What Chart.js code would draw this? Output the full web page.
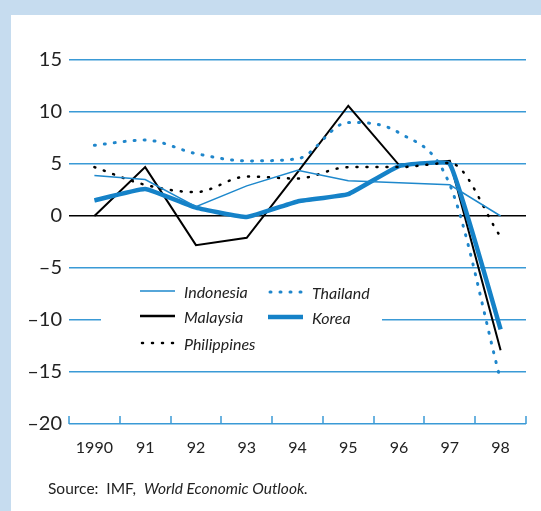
<!DOCTYPE html>
<html>
<head>
<meta charset="utf-8">
<script src="https://cdn.jsdelivr.net/npm/chart.js@4.4.1/dist/chart.umd.min.js"></script>
<style>
  html, body { margin: 0; padding: 0; background: #c6dcef; }
  #myChart { position: absolute; left: 0; top: 0; }
  #source { position: absolute; left: 48px; top: 479px; font: 15.5px Lato, sans-serif; color: #222; }
</style>
</head>
<body>
<canvas id="myChart" width="541" height="511"></canvas>
<div id="source">Source:&nbsp; IMF,&nbsp; <i>World Economic Outlook.</i></div>
<script>
// data
const years = ['1990', '91', '92', '93', '94', '95', '96', '97', '98']
const indonesia = [3.9, 3.5, 0.9, 2.9, 4.4, 3.4, 3.2, 3.0, 0.0]
const malaysia = [0.0, 4.7, -2.8, -2.1, 4.2, 10.6, 4.9, 5.3, -12.9]
const philippines = [4.7, 3.0, 2.3, 3.8, 3.6, 4.7, 4.7, 5.1, -2.0]
const thailand = [6.8, 7.3, 6.0, 5.3, 5.5, 9.0, 8.0, 3.0, -15.8]
const korea = [1.5, 2.6, 0.8, -0.1, 1.4, 2.1, 4.8, 5.0, -10.9]
const yTicks = [-20, -15, -10, -5, 0, 5, 10, 15]

const BLUE = '#3a9ad6'
const FONT = 'Lato, sans-serif'

// background panel
const panel = {
  id: 'panel',
  beforeDraw(chart) {
    const c = chart.ctx
    c.save()
    c.fillStyle = '#c6dcef'
    c.fillRect(0, 0, chart.width, chart.height)
    c.fillStyle = '#fff'
    c.fillRect(11, 15, chart.width - 11, chart.height - 15)
    c.restore()
  }
}

// legend box inside the plot
const legendBox = {
  id: 'legendBox',
  beforeDatasetsDraw(chart) {
    const c = chart.ctx
    c.save()
    c.fillStyle = '#fff'
    c.fillRect(101, 280, 281, 80)
    c.font = 'italic 16px ' + FONT
    c.fillStyle = '#222'
    c.textBaseline = 'middle'
    const items = [
      {x: 140, y: 291, label: 'Indonesia', color: '#1e88cc', w: 1.5, dash: []},
      {x: 140, y: 316, label: 'Malaysia', color: '#000', w: 2.5, dash: []},
      {x: 140, y: 343, label: 'Philippines', color: '#000', w: 2.5, dash: [1, 9]},
      {x: 268, y: 292, label: 'Thailand', color: '#1f86cb', w: 3, dash: [1, 9]},
      {x: 268, y: 317, label: 'Korea', color: '#1582c8', w: 4.5, dash: []}
    ]
    items.forEach(it => {
      c.beginPath()
      c.strokeStyle = it.color
      c.lineWidth = it.w
      c.setLineDash(it.dash)
      c.lineCap = it.dash.length ? 'round' : 'butt'
      c.moveTo(it.x + (it.dash.length ? 2 : 0), it.y)
      c.lineTo(it.x + 35, it.y)
      c.stroke()
      c.setLineDash([])
      c.fillText(it.label, it.x + 44, it.y + 2)
    })
    c.restore()
  }
}

// small upward ticks on the bottom axis
const xTicks = {
  id: 'xTicks',
  afterDraw(chart) {
    const c = chart.ctx
    const xs = chart.scales.x
    const bottom = chart.chartArea.bottom
    c.save()
    c.strokeStyle = BLUE
    c.lineWidth = 1.5
    for (let i = 0; i <= years.length; i++) {
      const x = Math.round(xs.getPixelForValue(i - 0.5))
      c.beginPath()
      c.moveTo(x, bottom)
      c.lineTo(x, bottom - 8)
      c.stroke()
    }
    c.restore()
  }
}

var ctx = document.getElementById('myChart').getContext('2d')
var chart = new Chart(ctx, {
  type: 'line',
  data: {
    labels: years,
    datasets: [
      {label: 'Indonesia', data: indonesia, borderColor: '#1e88cc', borderWidth: 1.5, tension: 0},
      {label: 'Philippines', data: philippines, borderColor: '#000', borderWidth: 2.5, borderDash: [1, 9], borderCapStyle: 'round', cubicInterpolationMode: 'monotone'},
      {label: 'Thailand', data: thailand, borderColor: '#1f86cb', borderWidth: 3, borderDash: [1, 9], borderCapStyle: 'round', cubicInterpolationMode: 'monotone'},
      {label: 'Korea', data: korea, borderColor: '#1582c8', borderWidth: 4.5, tension: 0.1},
      {label: 'Malaysia', data: malaysia, borderColor: '#000', borderWidth: 2, tension: 0}
    ]
  },
  options: {
    responsive: false,
    animation: false,
    devicePixelRatio: 1,
    layout: {padding: {top: 60, right: 15, left: 0, bottom: 0}},
    elements: {point: {radius: 0}},
    plugins: {legend: {display: false}, tooltip: {enabled: false}},
    scales: {
      x: {
        offset: true,
        grid: {display: false},
        border: {display: false},
        ticks: {font: {family: FONT, size: 16}, color: '#222', padding: 6, maxRotation: 0},
        afterFit: s => { s.height = 87 }
      },
      y: {
        min: -20,
        max: 15,
        afterBuildTicks: s => { s.ticks = yTicks.map(v => ({value: v})) },
        ticks: {
          font: {family: FONT, size: 20},
          color: '#222',
          padding: 7,
          callback: v => v < 0 ? '\u2013' + Math.abs(v) : String(v)
        },
        grid: {
          color: c => c.tick && c.tick.value === 0 ? '#000' : BLUE,
          lineWidth: 1.5,
          drawTicks: false
        },
        border: {display: false},
        afterFit: s => { s.width = 69 }
      }
    }
  },
  plugins: [panel, legendBox, xTicks]
})
</script>
</body>
</html>
